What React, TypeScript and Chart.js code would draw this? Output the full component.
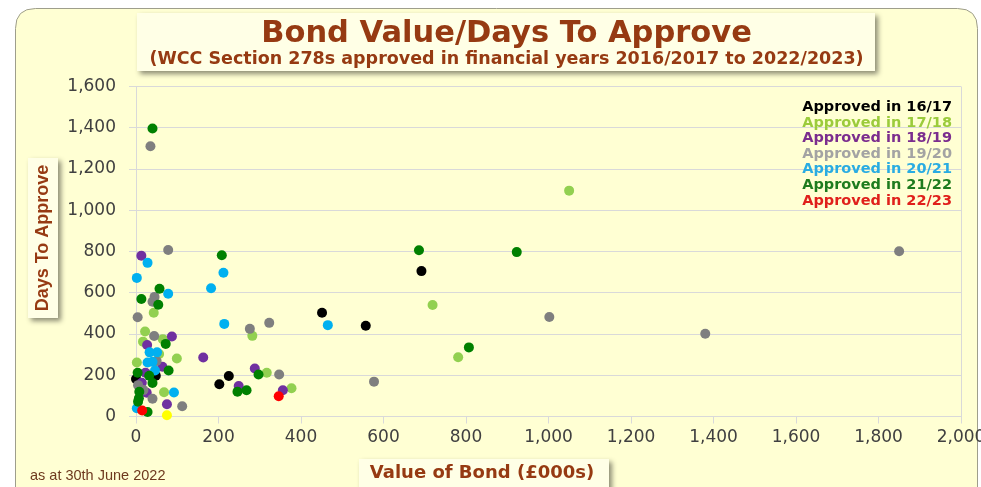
import React, { useEffect, useRef } from 'react';
import { Chart, registerables } from 'chart.js';

Chart.register(...registerables);

// ---------- text ----------
const titleText = 'Bond Value/Days To Approve';
const subtitleText = '(WCC Section 278s approved in financial years 2016/2017 to 2022/2023)';
const xAxisTitle = 'Value of Bond (£000s)';
const yAxisTitle = 'Days To Approve';
const footnote = 'as at 30th June 2022';

// ---------- series ----------
const seriesLabels = [
  'Approved in 16/17',
  'Approved in 17/18',
  'Approved in 18/19',
  'Approved in 19/20',
  'Approved in 20/21',
  'Approved in 21/22',
  'Approved in 22/23',
];
const pointColors = ['#000000', '#92D050', '#7030A0', '#7F7F7F', '#00B0F0', '#008000', '#FF0000'];
const legendColors = ['#000000', '#9BCB3B', '#7B2D8E', '#A3A3A3', '#2AACE2', '#1E7B1E', '#E0201B'];
const unlabelledColor = '#FFFF00';

// x = value of bond (£000s), y = days to approve
const approved1617: [number, number][] = [
  [0, 182], [48, 198], [202, 156], [225, 196], [451, 503], [557, 440], [692, 705],
];
const approved1718: [number, number][] = [
  [22, 412], [43, 503], [17, 363], [65, 375], [56, 303], [2, 262], [68, 118],
  [99, 281], [282, 391], [317, 212], [377, 137], [719, 541], [781, 287], [1050, 1095],
];
const approved1819: [number, number][] = [
  [13, 779], [87, 388], [27, 347], [163, 286], [64, 241], [23, 212], [14, 164],
  [288, 233], [249, 148], [356, 127], [75, 59], [26, 115],
];
const approved1920: [number, number][] = [
  [35, 1310], [78, 807], [45, 580], [40, 556], [4, 481], [44, 390], [50, 269],
  [5, 152], [18, 128], [40, 86], [112, 50], [276, 425], [323, 454], [347, 204],
  [577, 169], [1002, 482], [1380, 401], [1850, 801],
];
const approved2021: [number, number][] = [
  [2, 672], [28, 745], [78, 595], [182, 622], [212, 697], [214, 449], [465, 443],
  [33, 311], [51, 311], [28, 262], [40, 265], [46, 223], [92, 116], [2, 40],
];
const approved2122: [number, number][] = [
  [40, 1396], [208, 782], [686, 806], [923, 797], [807, 335], [13, 570], [57, 619],
  [54, 542], [72, 352], [79, 223], [4, 212], [32, 198], [40, 162], [246, 120],
  [268, 127], [297, 204], [8, 120], [7, 88], [5, 72], [28, 22],
];
const approved2223: [number, number][] = [
  [346, 98], [15, 29],
];
const unlabelled: [number, number][] = [
  [75, 6],
];

const seriesData = [approved1617, approved1718, approved1819, approved1920, approved2021, approved2122, approved2223];

// ---------- axes ----------
const xTickValues = [0, 200, 400, 600, 800, 1000, 1200, 1400, 1600, 1800, 2000];
const yTickValues = [0, 200, 400, 600, 800, 1000, 1200, 1400, 1600];

const BROWN = '#963A12';
const CREAM = '#FFFFD3';
const GRID = '#D9D9D9';

function shadowBox(ctx: CanvasRenderingContext2D, x: number, y: number, w: number, h: number) {
  ctx.save();
  ctx.shadowColor = 'rgba(0,0,0,0.45)';
  ctx.shadowBlur = 5;
  ctx.shadowOffsetX = 3;
  ctx.shadowOffsetY = 3;
  ctx.fillStyle = '#FFFFE6';
  ctx.fillRect(x, y, w, h);
  ctx.restore();
}

const decor = {
  id: 'decor',
  beforeDraw(chart: any) {
    const { ctx, width, height } = chart;
    ctx.save();
    ctx.fillStyle = '#ffffff';
    ctx.fillRect(0, 0, width, height);
    // rounded panel
    const x = 15.5, y = 8.5, w = 962, h = 540, r = 20;
    ctx.beginPath();
    ctx.moveTo(x + r, y);
    ctx.lineTo(x + w - r, y);
    ctx.quadraticCurveTo(x + w, y, x + w, y + r);
    ctx.lineTo(x + w, y + h);
    ctx.lineTo(x, y + h);
    ctx.lineTo(x, y + r);
    ctx.quadraticCurveTo(x, y, x + r, y);
    ctx.closePath();
    ctx.fillStyle = CREAM;
    ctx.fill();
    ctx.strokeStyle = '#9E9E8C';
    ctx.lineWidth = 1;
    ctx.stroke();
    // label boxes
    shadowBox(ctx, 137, 13, 738, 58);
    shadowBox(ctx, 28, 158, 30, 160);
    shadowBox(ctx, 359, 459, 250, 40);
    ctx.restore();
  },
  afterDraw(chart: any) {
    const { ctx, chartArea } = chart;
    ctx.save();
    // plot right border
    ctx.strokeStyle = GRID;
    ctx.lineWidth = 1;
    const rx = Math.round(chartArea.right) + 0.5;
    ctx.beginPath();
    ctx.moveTo(rx, chartArea.top);
    ctx.lineTo(rx, chartArea.bottom);
    ctx.stroke();

    // legend (text only)
    ctx.font = 'bold 14.5px "DejaVu Sans"';
    ctx.textAlign = 'right';
    ctx.textBaseline = 'alphabetic';
    seriesLabels.forEach((t, i) => {
      ctx.fillStyle = legendColors[i];
      ctx.fillText(t, chartArea.right - 9, chartArea.top + 24.5 + i * 15.6);
    });

    // y axis title
    ctx.save();
    ctx.translate(43, 238);
    ctx.rotate(-Math.PI / 2);
    ctx.font = 'bold 18px "Liberation Sans"';
    ctx.fillStyle = BROWN;
    ctx.textAlign = 'center';
    ctx.textBaseline = 'middle';
    ctx.fillText(yAxisTitle, 0, 0);
    ctx.restore();

    // x axis title
    ctx.font = 'bold 18px "DejaVu Sans"';
    ctx.fillStyle = BROWN;
    ctx.textAlign = 'center';
    ctx.textBaseline = 'middle';
    ctx.fillText(xAxisTitle, 482, 473);

    // footnote
    ctx.font = '14.5px "Liberation Sans"';
    ctx.fillStyle = '#6E3A1E';
    ctx.textAlign = 'left';
    ctx.fillText(footnote, 30, 476);
    ctx.restore();
  },
};

const fmt = (v: any) => Number(v).toLocaleString('en-US');

export default function App() {
  const ref = useRef<HTMLCanvasElement>(null);

  useEffect(() => {
    if (!ref.current) return;
    const datasets: any[] = seriesData.map((pts, i) => ({
      label: seriesLabels[i],
      data: pts.map(([x, y]) => ({ x, y })),
      backgroundColor: pointColors[i],
      borderColor: pointColors[i],
      borderWidth: 0,
      pointRadius: 5,
      pointHoverRadius: 5,
      clip: false,
      order: 20 - i,
    }));
    datasets.push({
      label: 'Unlabelled',
      data: unlabelled.map(([x, y]) => ({ x, y })),
      backgroundColor: unlabelledColor,
      borderColor: unlabelledColor,
      borderWidth: 0,
      pointRadius: 5,
      clip: false,
      order: 30,
    });

    const chart = new Chart(ref.current, {
      type: 'scatter',
      data: { datasets },
      plugins: [decor],
      options: {
        responsive: false,
        animation: false,
        devicePixelRatio: 1,
        layout: { padding: { left: 52, right: 20, top: 0, bottom: 0 } },
        plugins: {
          legend: { display: false },
          tooltip: { enabled: false },
          title: {
            display: true,
            text: titleText,
            color: BROWN,
            font: { family: '"DejaVu Sans"', size: 30.5, weight: 'bold', lineHeight: 1 },
            padding: { top: 19, bottom: 0 },
          },
          subtitle: {
            display: true,
            text: subtitleText,
            color: BROWN,
            font: { family: '"DejaVu Sans"', size: 17.5, weight: 'bold', lineHeight: 1 },
            padding: { top: 1.5, bottom: 18 },
          },
        },
        scales: {
          x: {
            type: 'linear',
            min: 0,
            max: 2000,
            afterBuildTicks: (s: any) => {
              s.ticks = xTickValues.map((v) => ({ value: v }));
            },
            afterFit: (s: any) => {
              s.height = 70.5;
              s.paddingRight = 0;
              s.paddingLeft = 0;
            },
            ticks: {
              color: '#404040',
              font: { family: '"DejaVu Sans"', size: 17 },
              padding: 4,
              maxRotation: 0,
              autoSkip: false,
              callback: (v: any) => fmt(v),
            },
            grid: { drawOnChartArea: false, color: GRID, tickLength: 7 },
            border: { color: GRID },
            title: { display: false, text: xAxisTitle },
          },
          y: {
            type: 'linear',
            min: 0,
            max: 1600,
            afterBuildTicks: (s: any) => {
              s.ticks = yTickValues.map((v) => ({ value: v }));
            },
            afterFit: (s: any) => {
              s.width = 84;
            },
            ticks: {
              color: '#404040',
              font: { family: '"DejaVu Sans"', size: 17 },
              padding: 13,
              autoSkip: false,
              callback: (v: any) => fmt(v),
            },
            grid: { color: GRID, tickLength: 7 },
            border: { color: GRID },
            title: { display: false, text: yAxisTitle },
          },
        },
      } as any,
    });
    return () => chart.destroy();
  }, []);

  return (
    <div style={{ position: 'absolute', left: 0, top: 0, width: 981, height: 487, background: '#ffffff', overflow: 'hidden' }}>
      <canvas ref={ref} width={981} height={487} style={{ display: 'block', width: 981, height: 487 }} />
    </div>
  );
}
